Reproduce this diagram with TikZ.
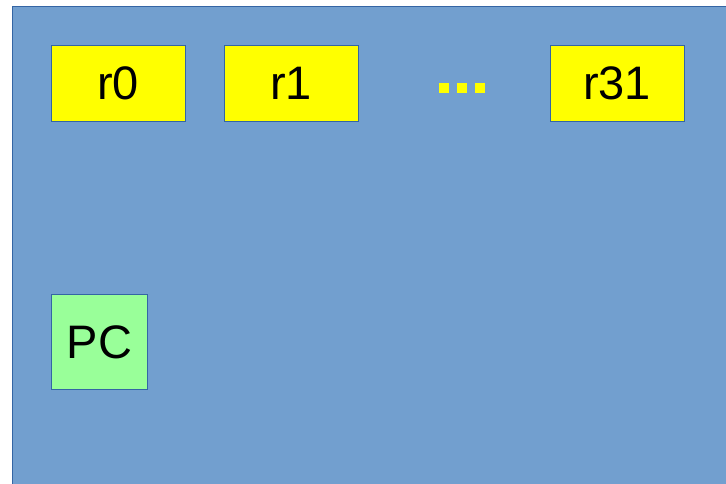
\documentclass[tikz,border=0pt]{standalone}
\usepackage{fontspec}
\setmainfont{Liberation Sans}
\definecolor{bgblue}{HTML}{729FCF}
\definecolor{edgeblue}{HTML}{3465A4}
\definecolor{regyellow}{HTML}{FFFF00}
\definecolor{pcgreen}{HTML}{99FF99}
\begin{document}
\begin{tikzpicture}[x=1pt,y=-1pt,
  regbox/.style={draw=edgeblue,line width=0.8pt,fill=regyellow,minimum width=134pt,minimum height=76pt,inner sep=0pt,font=\fontsize{47}{51}\selectfont},
  pcbox/.style={draw=edgeblue,line width=0.8pt,fill=pcgreen,minimum width=96pt,minimum height=95pt,inner sep=0pt,font=\fontsize{47}{51}\selectfont},
  dotsq/.style={fill=regyellow,draw=none,minimum size=10pt,inner sep=0pt}]
\useasboundingbox (0,0) rectangle (726,484);
\fill[white] (0,0) rectangle (726,484);
\draw[draw=edgeblue,line width=0.8pt,fill=bgblue] (12.5,6.5) rectangle (740,500);
\node[regbox] (r0) at (118,83) {r0};
\node[regbox] (r1) at (291,83) {r1};
\node[regbox] (r31) at (617,83) {r31};
\node[dotsq] (d1) at (444,88) {};
\node[dotsq] (d2) at (462,88) {};
\node[dotsq] (d3) at (480,88) {};
\node[pcbox] (pc) at (99.5,342) {PC};
\end{tikzpicture}
\end{document}
